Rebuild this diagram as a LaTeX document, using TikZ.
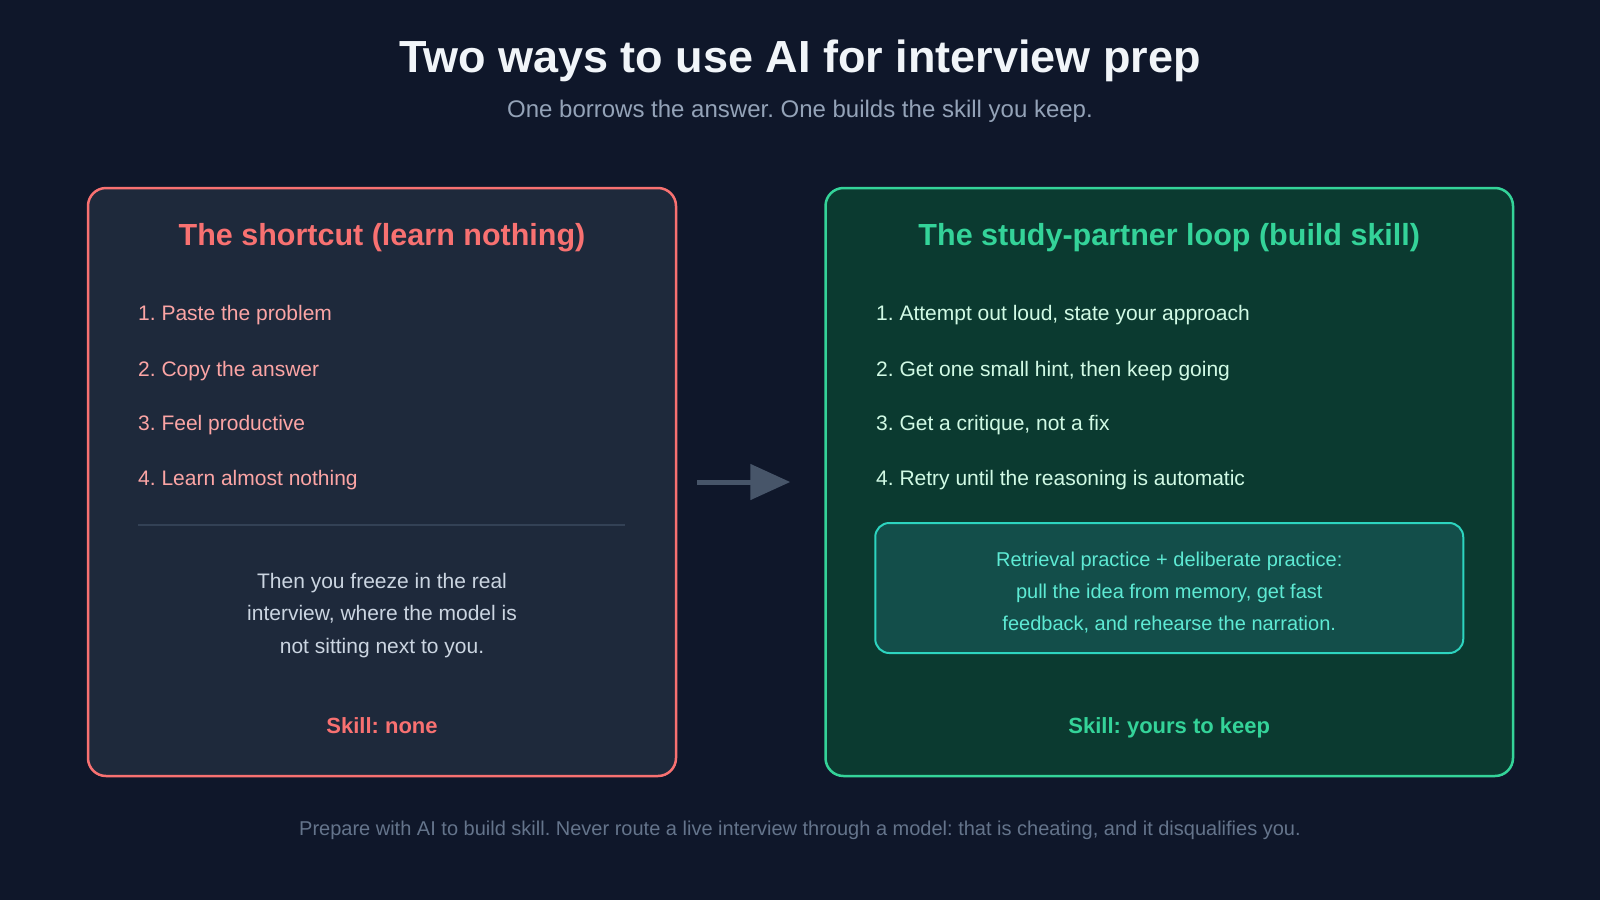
\documentclass[tikz,border=0pt]{standalone}
\usepackage{fontspec}
\setmainfont{Liberation Sans}
\usetikzlibrary{arrows.meta,positioning}
\frenchspacing
\definecolor{bgdark}{HTML}{0F172A}
\definecolor{headwhite}{HTML}{F1F5F9}
\definecolor{subgray}{HTML}{94A3B8}
\definecolor{footgray}{HTML}{64748B}
\definecolor{cutfill}{HTML}{1E293B}
\definecolor{cutred}{HTML}{F87171}
\definecolor{cutpink}{HTML}{FCA5A5}
\definecolor{cutrule}{HTML}{334155}
\definecolor{bodygray}{HTML}{CBD5E1}
\definecolor{loopfill}{HTML}{0B3A30}
\definecolor{loopgreen}{HTML}{34D399}
\definecolor{loopmint}{HTML}{D1FAE5}
\definecolor{notefill}{HTML}{134E4A}
\definecolor{noteteal}{HTML}{2DD4BF}
\definecolor{notetext}{HTML}{5EEAD4}
\definecolor{arrowgray}{HTML}{475569}

\begin{document}
\begin{tikzpicture}[x=1pt, y=-1pt,
  panel/.style={draw, line width=2.5pt, rounded corners=18pt, inner sep=0pt},
  paneltitle/.style={anchor=base, inner sep=0pt, font=\bfseries\fontsize{30.5}{36}\selectfont},
  listitem/.style={anchor=base west, inner sep=0pt, font=\fontsize{21}{25}\selectfont},
  skilltag/.style={anchor=base, inner sep=0pt, font=\bfseries\fontsize{22}{26}\selectfont}]
  % Background
  \fill[bgdark] (0,0) rectangle (1600,900);

  % Heading
  \node[anchor=base, inner sep=0pt, headwhite, font=\bfseries\fontsize{45}{54}\selectfont]
    (title) at (800,72.7) {Two ways to use AI for interview prep};
  \node[anchor=base, inner sep=0pt, subgray, font=\fontsize{24}{28}\selectfont]
    (subtitle) at (800,117.3) {One borrows the answer. One builds the skill you keep.};

  % Left panel
  \node[panel, cutred, fill=cutfill, minimum width=588pt, minimum height=588pt]
    (shortcut) at (382,482) {};
  \node[paneltitle, cutred] (cutTitle) at (382,245) {The shortcut (learn nothing)};
  \node[listitem, cutpink] (cutA) at (138,320.7) {1. Paste the problem};
  \node[listitem, cutpink] (cutB) at (138,376) {2. Copy the answer};
  \node[listitem, cutpink] (cutC) at (138,430.7) {3. Feel productive};
  \node[listitem, cutpink] (cutD) at (138,485.7) {4. Learn almost nothing};
  \draw[cutrule, line width=2pt] (138,525) -- (625,525);
  % base of a multi-line node = last line
  \node[anchor=base, inner sep=0pt, bodygray, align=center,
    font=\fontsize{21}{32.5}\selectfont] (freeze) at (382,653.3)
    {Then you freeze in the real\\interview, where the model is\\not sitting next to you.};
  \node[skilltag, cutred] (cutSkill) at (382,733.3) {Skill: none};

  % Right panel
  \node[panel, loopgreen, fill=loopfill, minimum width=687.5pt, minimum height=588pt]
    (loop) at (1169.25,482) {};
  \node[paneltitle, loopgreen] (loopTitle) at (1169.25,245) {The study-partner loop (build skill)};
  \node[listitem, loopmint] (loopA) at (876,320.7) {1. Attempt out loud, state your approach};
  \node[listitem, loopmint] (loopB) at (876,376) {2. Get one small hint, then keep going};
  \node[listitem, loopmint] (loopC) at (876,430.7) {3. Get a critique, not a fix};
  \node[listitem, loopmint] (loopD) at (876,485.7) {4. Retry until the reasoning is automatic};

  % Note box
  \node[draw=noteteal, fill=notefill, line width=2pt, rounded corners=14pt,
    minimum width=588pt, minimum height=130pt] (note) at (1169.25,588) {};
  \node[anchor=base, inner sep=0pt, notetext, align=center,
    font=\fontsize{20}{32.3}\selectfont] (noteText) at (1169.25,630.7)
    {Retrieval practice + deliberate practice:\\pull the idea from memory, get fast\\feedback, and rehearse the narration.};
  \node[skilltag, loopgreen] (loopSkill) at (1169.25,733.3) {Skill: yours to keep};

  % Arrow between panels
  \draw[arrowgray, line width=5pt, -{Triangle[length=40pt,width=35pt]}]
    ([xshift=20pt]shortcut.east) -- ([xshift=-34pt]loop.west);

  % Footer
  \node[anchor=base, inner sep=0pt, footgray, font=\fontsize{20}{24}\selectfont]
    (footer) at (800,835)
    {Prepare with AI to build skill. Never route a live interview through a model: that is cheating, and it disqualifies you.};
\end{tikzpicture}
\end{document}
